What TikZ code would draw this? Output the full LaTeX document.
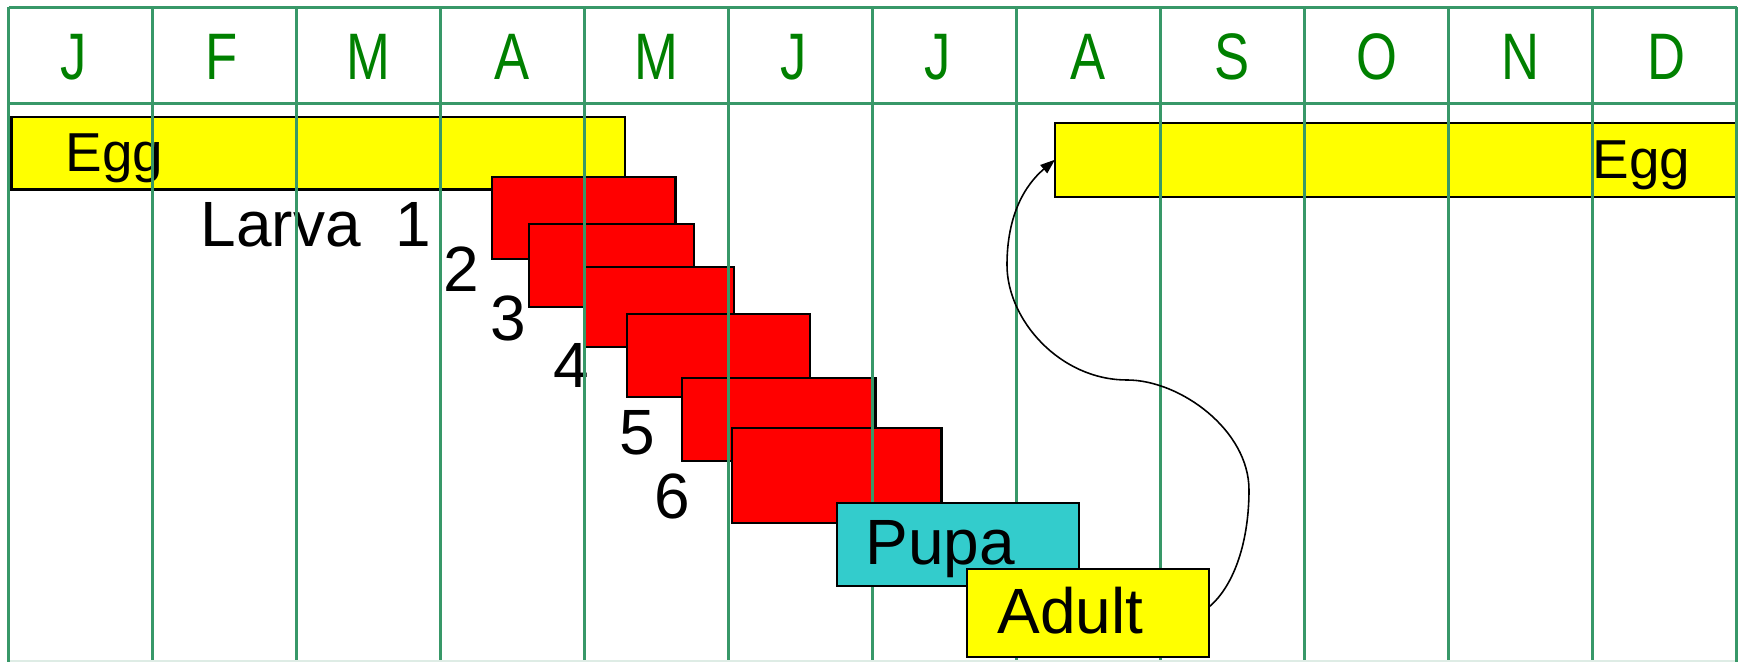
\documentclass[tikz,border=0pt]{standalone}
\usepackage{fontspec}
\setmainfont{Liberation Sans}
\newfontfamily\monthfont[FakeStretch=0.8]{Liberation Sans}
\usetikzlibrary{arrows.meta}
\definecolor{gridgreen}{RGB}{56,152,104}
\definecolor{monthgreen}{RGB}{0,128,0}
\definecolor{pupacyan}{RGB}{51,204,204}
\definecolor{eggyellow}{RGB}{255,255,0}
\definecolor{larvared}{RGB}{255,0,0}
\definecolor{faintline}{RGB}{222,236,229}
\newcommand{\pbox}[6]{\node[#6, minimum width={(#4-#2)*0.01cm}, minimum height={(#5-#3)*0.01cm}] (#1) at ({(#2+#4)/2},{(#3+#5)/2}) {};}
\begin{document}
\begin{tikzpicture}[x=0.01cm,y=-0.01cm,
  gridline/.style={draw=gridgreen, line width=1pt},
  stagebox/.style={draw=black, line width=0.6pt, inner sep=0pt, outer sep=0pt, rectangle},
  eggbox/.style={stagebox, fill=eggyellow},
  larvabox/.style={stagebox, fill=larvared},
  pupabox/.style={stagebox, fill=pupacyan},
  monthlbl/.style={anchor=base, inner sep=0pt, text=monthgreen, font=\monthfont\fontsize{18.7pt}{20pt}\selectfont},
  biglbl/.style={anchor=base west, inner sep=0pt, font=\fontsize{18.2pt}{20pt}\selectfont},
  egglbl/.style={anchor=base west, inner sep=0pt, font=\fontsize{15.6pt}{17pt}\selectfont},
  curve/.style={draw=black, line width=0.45pt, -{Triangle[length=4.2pt,width=3pt]}}
]
\useasboundingbox (0,0) rectangle (1744,662);
\fill[white] (0,0) rectangle (1744,662);
% egg bars
\pbox{egga}{11.5}{117.3}{625}{189.5}{eggbox}
\pbox{eggb}{1055}{122.7}{1737}{196.7}{eggbox}
% larval instars
\pbox{la}{492}{177}{675.5}{259}{larvabox}
\pbox{lb}{529}{224.3}{694}{306.7}{larvabox}
\pbox{lc}{585}{266.7}{733.7}{346.7}{larvabox}
\pbox{ld}{627}{314}{810}{396.7}{larvabox}
\pbox{le}{682}{377.7}{875.5}{460.7}{larvabox}
\pbox{lf}{732}{427.7}{941.5}{522.7}{larvabox}
% labels under the grid
\node[egglbl] (teggA) at (65,171.5) {Egg};
\node[egglbl] (teggB) at (1592,178.3) {Egg};
\node[biglbl] (tlarva) at (200,247) {Larva};
\node[biglbl] (tone) at (395,247) {1};
\node[biglbl] (ttwo) at (443,292) {2};
\node[biglbl] (tthree) at (490,341) {3};
\node[biglbl] (tfour) at (553,388) {4};
\node[biglbl] (tfive) at (619,454.5) {5};
\node[biglbl] (tsix) at (654,519) {6};
% grid
\foreach \i in {0,...,12}{
  \draw[gridline] ({8.5+144*\i},7.3) -- ({8.5+144*\i},666);
}
\draw[gridline] (8.5,7.3) -- (1736.5,7.3);
\draw[gridline] (8.5,103.3) -- (1736.5,103.3);
\draw[draw=faintline, line width=0.5pt] (10,661.3) -- (1735,661.3);
% months
\foreach \m/\dx [count=\k from 0] in {J/-7,F/-3,M/0,A/0,M/0,J/-7,J/-7,A/0,S/0,O/0,N/0,D/2}{
  \node[monthlbl] (m\k) at ({80.5+144*\k+\dx},80) {\m};
}
% pupa and adult
\pbox{pupa}{836.7}{503.3}{1079.3}{585.7}{pupabox}
\node[biglbl] (tpupa) at (865,565) {Pupa};
\pbox{adult}{966.7}{569.3}{1209}{656.7}{eggbox}
\node[biglbl] (tadult) at (997,634) {Adult};
% connector from adult back to egg
\coordinate (wa) at (1249,490);
\coordinate (wb) at (1127,380);
\coordinate (wc) at (1007,265);
\draw[curve] ([yshift=0.06cm]adult.east) .. controls (1235,585) and (1249,540) .. (wa)
  .. controls (1249,430) and (1180,380) .. (wb)
  .. controls (1060,380) and (1007,320) .. (wc)
  .. controls (1007,215) and (1025,185) .. (eggb.west);
\end{tikzpicture}
\end{document}
